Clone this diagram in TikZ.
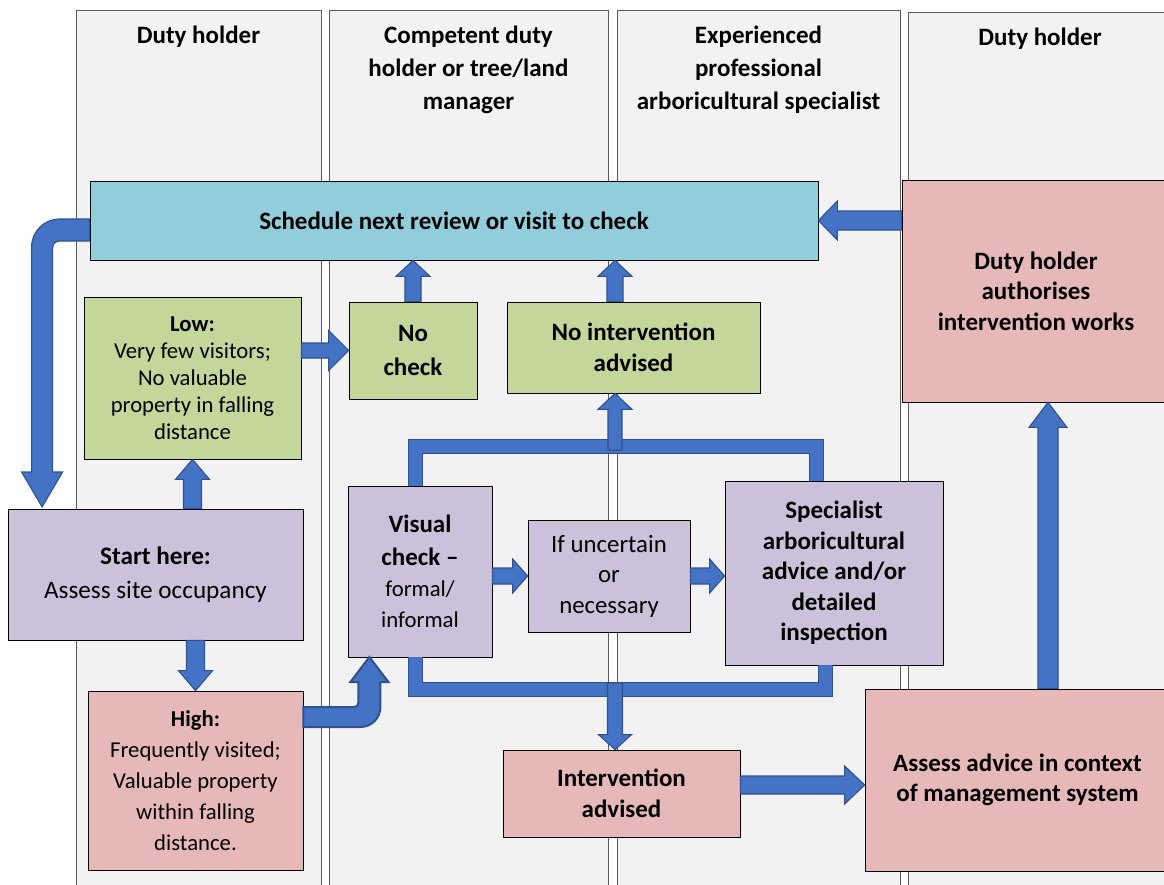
\documentclass[tikz,border=0pt]{standalone}
\usepackage{fontspec}
\setmainfont{Carlito}
\usetikzlibrary{calc}

\definecolor{lanefill}{HTML}{F2F2F2}
\definecolor{laneline}{HTML}{5A5A5A}
\definecolor{skyfill}{HTML}{92CDDC}
\definecolor{leaffill}{HTML}{C4D79B}
\definecolor{lilacfill}{HTML}{CCC1DA}
\definecolor{rosefill}{HTML}{E6B9B8}
\definecolor{arrowfill}{HTML}{4472C4}
\definecolor{arrowline}{HTML}{2F528F}

\tikzset{
  lane/.style={fill=lanefill, draw=laneline, line width=1pt},
  lanehead/.style={font=\bfseries\fontsize{25}{33}\selectfont, align=center},
  box/.style={draw=black, line width=0.8pt, inner sep=0pt, align=center},
  boldtext/.style={font=\bfseries\fontsize{25}{30.5}\selectfont},
  plaintext/.style={font=\fontsize{24.8}{30.5}\selectfont},
  blockarrow/.style={fill=arrowfill, draw=arrowline, line width=1.1pt, line join=miter},
  bar/.style={draw=arrowline, line width=1pt, double=arrowfill, double distance=13pt, line join=miter},
}

% straight block arrow: from, to, shaft half-width, head half-width, head length
\newcommand\blockarrow[5]{%
  \path[blockarrow] let \p1=(#1), \p2=(#2),
    \n1={atan2(\y2-\y1,\x2-\x1)}, \n2={veclen(\x2-\x1,\y2-\y1)} in
    [shift={(\p1)}, rotate=\n1]
    (0,-#3) -- ({\n2-#5},-#3) -- ({\n2-#5},-#4) -- (\n2,0)
    -- ({\n2-#5},#4) -- ({\n2-#5},#3) -- (0,#3) -- cycle;}

\begin{document}
\begin{tikzpicture}[x=1pt, y=-1pt]
\useasboundingbox (0,0) rectangle (1164,884);
\clip (0,0) rectangle (1164,884);

% swim lanes
\path[lane] (76,10) rectangle (321.5,895);
\path[lane] (329,10) rectangle (608.5,895);
\path[lane] (617,10) rectangle (900.5,895);
\path[lane] (908,12) rectangle (1180,895);

\node[lanehead] (head1) at (198.5,37) {Duty holder};
\node[lanehead] (head2) at (468.5,70) {Competent duty\\holder or tree/land\\manager};
\node[lanehead] (head3) at (758.5,70) {Experienced\\professional\\arboricultural specialist};
\node[lanehead] (head4) at (1040,39) {Duty holder};

% process boxes
\node[box, boldtext, fill=skyfill, minimum width=728, minimum height=79]
  (schedule) at (454,220.5) {Schedule next review or visit to check};
\node[box, boldtext, fill=rosefill, minimum width=268, minimum height=222]
  (authorise) at (1036,291) {Duty holder\\authorises\\intervention works};
\node[box, fill=leaffill, minimum width=217, minimum height=162,
  font=\fontsize{22.7}{27}\selectfont]
  (low) at (192.5,378) {\textbf{Low:}\\Very few visitors;\\No valuable\\property in falling\\distance};
\node[box, font=\bfseries\fontsize{25}{34}\selectfont, fill=leaffill, minimum width=128, minimum height=97]
  (nocheck) at (413,350.5) {No\\check};
\node[box, boldtext, fill=leaffill, minimum width=253, minimum height=91]
  (noint) at (633.5,347.5) {No intervention\\advised};
\node[box, fill=lilacfill, minimum width=295, minimum height=131,
  font=\fontsize{25.2}{34}\selectfont]
  (start) at (155.5,574.5) {\textbf{Start here:}\\Assess site occupancy};
\node[box, fill=lilacfill, minimum width=144, minimum height=171,
  font=\fontsize{22.7}{31}\selectfont]
  (visual) at (420,571.5) {{\bfseries\fontsize{25}{31}\selectfont Visual}\\[2pt]{\bfseries\fontsize{25}{31}\selectfont check –}\\formal/\\informal};
\node[box, plaintext, fill=lilacfill, minimum width=162, minimum height=112]
  (uncertain) at (609,576) {If uncertain\\or\\necessary};
\node[box, boldtext, fill=lilacfill, minimum width=218, minimum height=184]
  (specialist) at (834,573) {Specialist\\arboricultural\\advice and/or\\detailed\\inspection};
\node[box, fill=rosefill, minimum width=215, minimum height=179,
  font=\fontsize{22.7}{31}\selectfont]
  (high) at (195.5,780.5) {\textbf{High:}\\Frequently visited;\\Valuable property\\within falling\\distance.};
\node[box, boldtext, fill=rosefill, minimum width=237, minimum height=87]
  (intervention) at (621.5,793.5) {Intervention\\advised};
\node[box, boldtext, fill=rosefill, minimum width=305, minimum height=182]
  (assess) at (1017.5,780) {Assess advice in context\\of management system};

% junctions of the two branching bars
\coordinate (spinetop) at (615,450);
\coordinate (spinelow) at (615,683);

% loop back from the review to the start
\path[blockarrow, shift={(schedule.west)}]
  (0,-1.5) -- (-30,-1.5) .. controls (-45.5,-1.5) and (-58,11) .. (-58,26.5)
  -- (-58,251.5) -- (-68,251.5) -- (-47.5,286.5) -- (-27,251.5) -- (-37,251.5)
  -- (-37,27.5) .. controls (-37,23.6) and (-33.9,20.5) .. (-30,20.5)
  -- (0,20.5) -- cycle;

% from high occupancy round to the visual check
\path[blockarrow, line width=2pt, shift={(high.east)}]
  (0,-73.5) -- (51,-73.5) .. controls (53.2,-73.5) and (55,-75.3) .. (55,-77.5)
  -- (55,-98.5) -- (47,-98.5) -- (66,-123.5) -- (85,-98.5) -- (77,-98.5)
  -- (77,-73.5) .. controls (77,-62.5) and (68,-53.5) .. (57,-53.5)
  -- (0,-53.5) -- cycle;

% branching bars
\draw[bar] ([xshift=-5pt]visual.north) -- ++(0,-39) -| ([xshift=-18pt]specialist.north);
\draw[bar] ([xshift=-5pt]visual.south) -- ++(0,32) -| ([xshift=-9pt]specialist.south);

% straight block arrows
\blockarrow{schedule.east -| authorise.west}{schedule.east}{9.5}{19.5}{19}
\blockarrow{nocheck.north}{nocheck.north |- schedule.south}{8}{17}{16}
\blockarrow{noint.north -| spinetop}{schedule.south -| spinetop}{8}{17}{16}
\blockarrow{nocheck.west -| low.east}{nocheck.west}{7.5}{20}{20}
\blockarrow{start.north -| low.south}{low.south}{9}{17}{20}
\blockarrow{high.north |- start.south}{high.north}{9}{17}{20}
\blockarrow{uncertain.west -| visual.east}{uncertain.west}{8}{17}{15}
\blockarrow{uncertain.east}{uncertain.east -| specialist.west}{8}{17}{15}
\blockarrow{spinetop}{noint.south -| spinetop}{7}{17}{16}
\blockarrow{spinelow}{intervention.north -| spinelow}{7.5}{16.5}{15}
\blockarrow{[yshift=8.5pt]intervention.east}{[yshift=8.5pt]intervention.east -| assess.west}{9}{19}{20}
\blockarrow{[xshift=30.5pt]assess.north}{[xshift=30.5pt]assess.north |- authorise.south}{10}{19}{25}
\end{tikzpicture}
\end{document}
